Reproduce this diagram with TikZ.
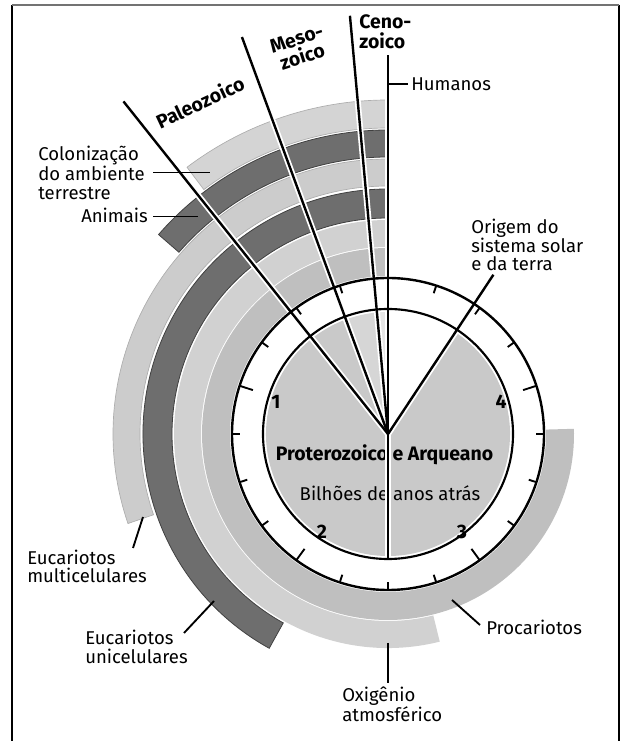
\documentclass[tikz,border=0pt]{standalone}
\usepackage{fontspec}
\setmainfont{Fira Sans}
\newcommand{\annband}[5]{%
  \filldraw[#5, shift={(C)}] (#1:#3) arc[start angle=#1, end angle=#2, radius=#3]
    -- (#2:#4) arc[start angle=#2, end angle=#1, radius=#4] -- cycle;}
\begin{document}
\begin{tikzpicture}[x=0.75pt, y=0.75pt,
  lbl/.style={font=\fontsize{13.9}{14}\selectfont, inner sep=0pt, align=left},
  blbl/.style={font=\fontsize{14.6}{14}\selectfont\bfseries, inner sep=0pt, align=center},
  lightband/.style={fill=black!20, draw=black!32, line width=0.5pt},
  darkband/.style={fill=black!57, draw=black!75, line width=0.6pt},
  halo/.style={white, line width=4.5pt},
  era/.style={black, line width=1.8pt},
  leader/.style={black, line width=1.4pt},
  tickmark/.style={black, line width=1.4pt}]
\useasboundingbox (0,0) rectangle (624,741);
\coordinate (C) at (388,307);
% frame
\coordinate (f1) at (12,0); \coordinate (f2) at (12,736);
\coordinate (f3) at (619,736); \coordinate (f4) at (619,0);
\draw[line width=1.6pt] (f1) -- (f2);
\draw[line width=1.8pt] (f3) -- (f4);
\draw[black!55, line width=0.9pt] (f2) -- (f3);
% bands
\annband{90}{127}{306}{334}{lightband, fill=black!17}
\annband{90}{139}{277}{304}{darkband}
\annband{90}{199}{248}{275}{lightband}
\annband{90}{241}{216}{245}{darkband}
\annband{90}{284}{187}{214}{lightband, fill=black!18, draw=none}
\annband{90}{361.6}{158}{186}{lightband, fill=black!25, draw=none}
% clock disc
\fill[white] (C) circle[radius=157];
% pie
\fill[black!21, shift={(C)}] (0,0) -- (110.2:122) arc[start angle=110.2, end angle=416.5, radius=122] -- cycle;
\fill[black!16, shift={(C)}] (0,0) -- (95.2:122) arc[start angle=95.2, end angle=110.2, radius=122] -- cycle;
\fill[black!10, shift={(C)}] (0,0) -- (90:122) arc[start angle=90, end angle=95.2, radius=122] -- cycle;
% inner texts
\node[blbl] (prot) at (384.5,286) {Proterozoico e Arqueano};
\node[lbl] (bilh) at (390,248) {Bilhões de anos atrás};
\node[blbl] (n1) at (276,339) {1};
\node[blbl] (n2) at (322,209) {2};
\node[blbl] (n3) at (462,209) {3};
\node[blbl] (n4) at (501,339) {4};
% era line ends
\path (C) ++(128.5:425) coordinate (pal);
\path (C) ++(110.2:423) coordinate (mes);
\path (C) ++(95.2:420) coordinate (cen);
\path (C) ++(90:379) coordinate (vup);
\path (C) ++(56.5:191) coordinate (org);
\path (C) ++(270:125) coordinate (vdn);
\foreach \e in {pal,mes,cen,vup,org,vdn} \draw[halo] (C) -- (\e);
% circles
\draw[line width=1.8pt] (C) circle[radius=156];
\draw[line width=1.6pt] (C) circle[radius=125];
% ticks
\foreach \k in {1,...,19} {
  \pgfmathtruncatemacro\m{mod(\k,4)}
  \pgfmathsetmacro\a{90+18*\k}
  \ifnum\m=0 \def\L{14}\else\def\L{8}\fi
  \draw[tickmark, shift={(C)}] (\a:156) -- (\a:156-\L);
}
\foreach \e in {pal,mes,cen,vup,org,vdn} \draw[era] (C) -- (\e);
% labels
\node[lbl, anchor=west] (hum) at (411,657) {Humanos};
\coordinate (humA) at (389,657); \coordinate (humB) at (408,657);
\draw[leader] (humA) -- (humB);
\node[lbl, anchor=west] (col) at (38,568.5) {Colonização\\do ambiente\\terrestre};
\coordinate (colA) at (153,568.5); \coordinate (colB) at (210,568.5);
\draw[leader] (colA) -- (colB);
\node[lbl, anchor=west] (ani) at (81,526) {Animais};
\coordinate (aniA) at (153,524.5); \coordinate (aniB) at (198,524.5);
\draw[leader] (aniA) -- (aniB);
\node[lbl, anchor=west] (ori) at (471,496) {Origem do\\sistema solar\\e da terra};
\node[lbl, anchor=west] (emu) at (27,174.5) {Eucariotos\\multicelulares};
\coordinate (emuA) at (143,224); \coordinate (emuB) at (133,193);
\draw[leader] (emuA) -- (emuB);
\node[lbl, anchor=west] (eun) at (85,94) {Eucariotos\\unicelulares};
\coordinate (eunA) at (214,140); \coordinate (eunB) at (184,108);
\draw[leader] (eunA) -- (eunB);
\node[lbl, anchor=west] (pro) at (486,114) {Procariotos};
\coordinate (proA) at (452,141); \coordinate (proB) at (480,116);
\draw[leader] (proA) -- (proB);
\node[lbl, anchor=west] (oxi) at (342,36.5) {Oxigênio\\atmosférico};
\coordinate (oxiA) at (388,98); \coordinate (oxiB) at (388,58);
\draw[leader] (oxiA) -- (oxiB);
\node[blbl, align=left, anchor=west, font=\fontsize{14.6}{15}\selectfont\bfseries] (ceno) at (359,709) {Ceno-\\zoico};
\node[blbl, rotate=18] (meso) at (299.5,693) {Meso-\\zoico};
\node[blbl, rotate=25] (paleo) at (200,639) {Paleozoico};
\end{tikzpicture}
\end{document}
